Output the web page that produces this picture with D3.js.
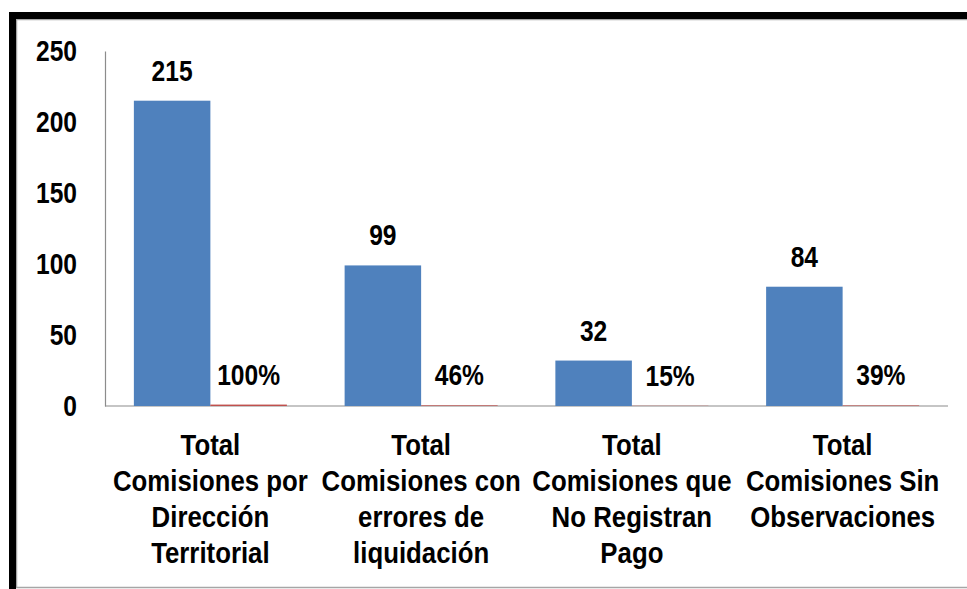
<!DOCTYPE html>
<html>
<head>
<meta charset="utf-8">
<script src="https://cdn.jsdelivr.net/npm/d3@7"></script>
<style>
    body { margin: 0; background: #fff; }
    svg text { font-family: "Liberation Sans Narrow", "Arial Narrow", "Liberation Sans", Arial, sans-serif; }
</style>
</head>
<body>
<div id="chart"></div>
<script>
// chart data
const categories = [
    ["Total", "Comisiones por", "Dirección", "Territorial"],
    ["Total", "Comisiones con", "errores de", "liquidación"],
    ["Total", "Comisiones que", "No Registran", "Pago"],
    ["Total", "Comisiones Sin", "Observaciones"]
];
const totals = [215, 99, 32, 84];
const shares = [1.00, 0.46, 0.15, 0.39];
const yTicks = [0, 50, 100, 150, 200, 250];

const W = 967, H = 589;
const NARROW = 0.82;   // no narrow font installed, so squeeze horizontally
const svg = d3.select("#chart").append("svg")
    .attr("width", W)
    .attr("height", H);

// frame: thick black top/left, thin gray inner line
svg.append("rect")
    .attr("x", 16.5).attr("y", 19.5)
    .attr("width", W).attr("height", 568)
    .attr("fill", "none")
    .attr("stroke", "#a6a6a6")
    .attr("stroke-width", 1.5);
svg.append("rect").attr("x", 9).attr("y", 12).attr("width", W).attr("height", 7).attr("fill", "#000");
svg.append("rect").attr("x", 9).attr("y", 12).attr("width", 7).attr("height", H).attr("fill", "#000");

const plot = {left: 105, right: 948, top: 51, bottom: 406};

const x = d3.scaleBand()
    .domain(d3.range(categories.length))
    .range([plot.left, plot.right])
    .paddingInner(0.274)
    .paddingOuter(0.137);

const xSub = d3.scaleBand()
    .domain(["total", "share"])
    .range([0, x.bandwidth()]);

const y = d3.scaleLinear()
    .domain([0, 250])
    .range([plot.bottom, plot.top]);

// y axis (no tick marks)
const yAxis = svg.append("g")
    .attr("transform", `translate(${plot.left},0)`)
    .call(d3.axisLeft(y).tickValues(yTicks).tickSize(0).tickPadding(28));
yAxis.select(".domain").attr("stroke", "#8c8c8c").attr("stroke-width", 1.2);
yAxis.selectAll("text")
    .attr("x", -28 / NARROW)
    .attr("transform", `scale(${NARROW},1)`)
    .attr("font-size", 30)
    .attr("font-weight", "bold")
    .attr("fill", "#000");

// x axis baseline
svg.append("line")
    .attr("x1", plot.left).attr("x2", plot.right)
    .attr("y1", y(0)).attr("y2", y(0))
    .attr("stroke", "#8c8c8c")
    .attr("stroke-width", 1.2);

// blue bars (totals)
svg.append("g").selectAll("rect")
    .data(totals)
    .enter().append("rect")
        .attr("x", (d, i) => x(i) + xSub("total"))
        .attr("y", d => y(d))
        .attr("width", xSub.bandwidth())
        .attr("height", d => y(0) - y(d))
        .attr("fill", "#4f81bd");

// red bars (shares, as fraction on the same scale)
svg.append("g").selectAll("rect")
    .data(shares)
    .enter().append("rect")
        .attr("x", (d, i) => x(i) + xSub("share"))
        .attr("y", d => y(d))
        .attr("width", xSub.bandwidth())
        .attr("height", d => y(0) - y(d))
        .attr("fill", "#c0504d");

// labels
svg.append("g").selectAll("text")
    .data(totals)
    .enter().append("text")
        .attr("transform", (d, i) => `translate(${x(i) + xSub("total") + xSub.bandwidth() / 2},${y(d) - 20}) scale(${NARROW},1)`)
        .attr("text-anchor", "middle")
        .attr("font-size", 30)
        .attr("font-weight", "bold")
        .text(d => d);

svg.append("g").selectAll("text")
    .data(shares)
    .enter().append("text")
        .attr("transform", (d, i) => `translate(${x(i) + xSub("share") + xSub.bandwidth() / 2},${y(d) - 20}) scale(${NARROW},1)`)
        .attr("text-anchor", "middle")
        .attr("font-size", 30)
        .attr("font-weight", "bold")
        .text(d => d3.format(".0%")(d));

// category labels
const cat = svg.append("g").selectAll("text")
    .data(categories)
    .enter().append("text")
        .attr("transform", (d, i) => `translate(${x(i) + x.bandwidth() / 2},455) scale(0.86,1)`)
        .attr("text-anchor", "middle")
        .attr("font-size", 30)
        .attr("font-weight", "bold");
cat.selectAll("tspan")
    .data(d => d)
    .enter().append("tspan")
        .attr("x", 0)
        .attr("dy", (d, i) => i === 0 ? 0 : 36)
        .text(d => d);
</script>
</body>
</html>
